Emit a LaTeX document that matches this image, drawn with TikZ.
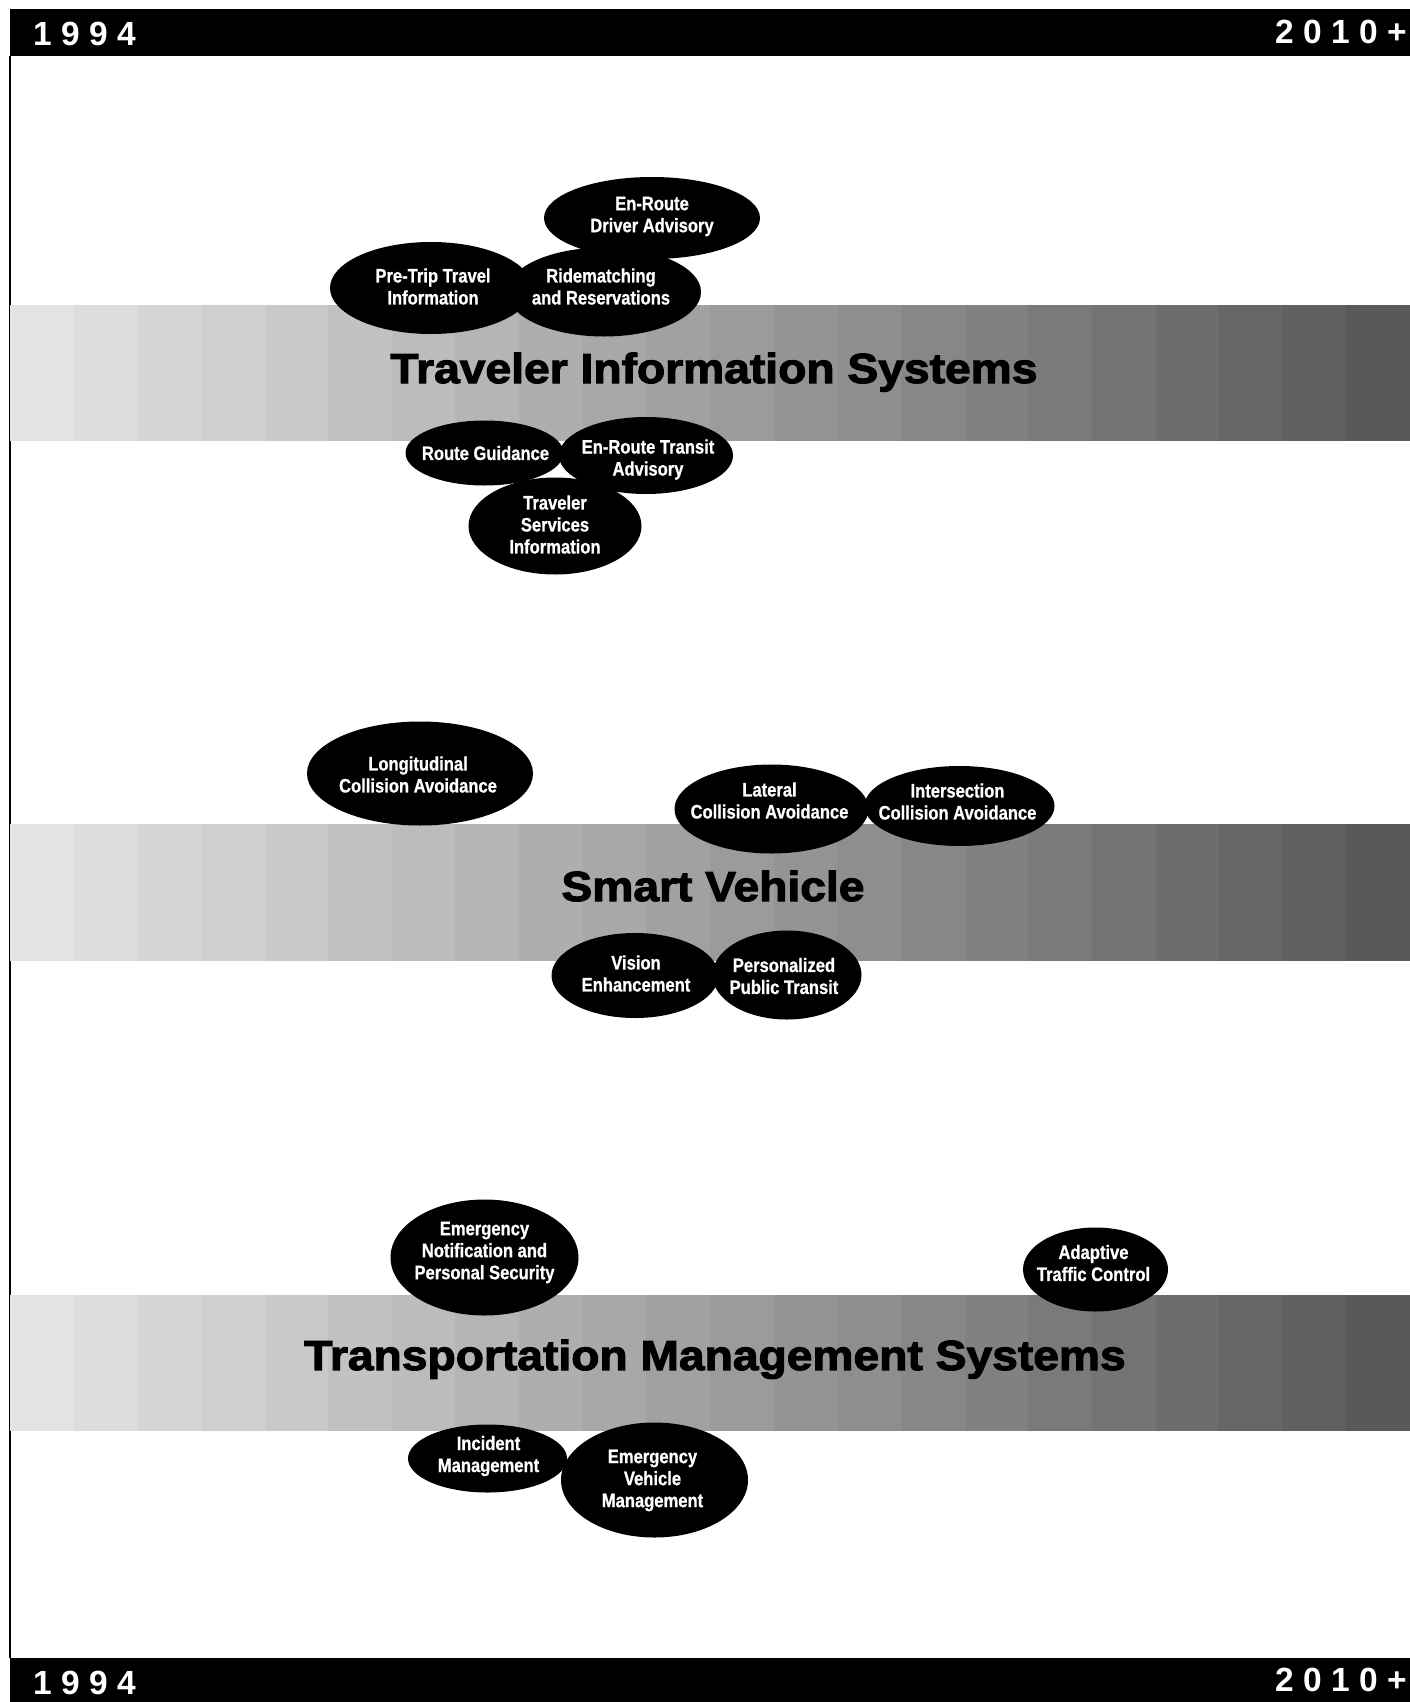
\documentclass[tikz,border=0pt]{standalone}
\usepackage{fontspec}
\setmainfont{Liberation Sans}
\newfontfamily\bubblefont[FakeStretch=0.85,FakeBold=0.8]{Liberation Sans}
\newfontfamily\bandfont[FakeStretch=1.1,FakeBold=2.6]{Liberation Sans}
\newfontfamily\yearfont[LetterSpace=28]{Liberation Sans}

% stepped grey band spanning the page width
\newcommand\greyband[2]{%
  \foreach \i in {0,...,21}{%
    \pgfmathsetmacro\g{89-54*\i/21}%
    \fill[white!\g!black] ({10+\i*63.64},#1) rectangle ({10+(\i+1)*63.64+0.6},#2);
  }%
}
% black elliptical bubble: name, centre x, centre y, radii, label offset, label
\newcommand\bubble[8]{%
  \fill[black] (#2,#3) ellipse [x radius=#4pt, y radius=#5pt];
  \node[bubbletext] (#1) at ({#2+#6},{#3+#7}) {#8};
}

\begin{document}
\begin{tikzpicture}[x=1pt,y=-1pt,
  bubbletext/.style={text=white, inner sep=0pt, align=center,
    font=\bubblefont\bfseries\fontsize{19.5}{22}\selectfont},
  bandtitle/.style={text=black, inner sep=0pt, anchor=base,
    font=\bandfont\bfseries\fontsize{42}{48}\selectfont},
  yearlabel/.style={text=white, inner sep=0pt,
    font=\yearfont\bfseries\fontsize{33.5}{38}\selectfont}]

\useasboundingbox (0,0) rectangle (1410,1702);
\fill[white] (0,0) rectangle (1410,1702);

% time axis bars and left rule
\fill[black] (10,8.7) rectangle (1410,56.4);
\fill[black] (10,1657.5) rectangle (1410,1702);
\draw[line width=2pt] (10,56) -- (10,1658);
\node[yearlabel, anchor=base west] (startTop) at (33,45.6) {1994};
\node[yearlabel, anchor=base east] (endTop) at (1407,43.5) {2010+};
\node[yearlabel, anchor=base west] (startBot) at (33,1694) {1994};
\node[yearlabel, anchor=base east] (endBot) at (1407,1691) {2010+};

% bands
\greyband{305}{440.7}
\greyband{824}{960.7}
\greyband{1295}{1430.6}
\node[bandtitle] (tis) at (714,383) {Traveler Information Systems};
\node[bandtitle] (sv) at (713,901) {Smart Vehicle};
\node[bandtitle] (tms) at (715,1370) {Transportation Management Systems};

% Traveler Information Systems
\bubble{driverAdv}{652}{218}{108}{41}{0}{-1.5}{En-Route\\Driver Advisory}
\bubble{preTrip}{431}{288}{101}{46}{2}{-1.5}{Pre-Trip Travel\\Information}
\bubble{rideMatch}{604}{292}{97}{44.5}{-3}{-5.5}{Ridematching\\and Reservations}
\bubble{routeGuid}{484.5}{453}{79}{32.5}{1}{0}{Route Guidance}
\bubble{transitAdv}{646}{455.5}{87}{38.5}{2}{4}{En-Route Transit\\Advisory}
\bubble{travServ}{555}{526}{86.5}{48.5}{0}{-1.5}{Traveler\\Services\\Information}

% Smart Vehicle
\bubble{longCA}{420}{773.5}{113}{52}{-2}{1}{Longitudinal\\Collision Avoidance}
\bubble{latCA}{771.5}{809}{97}{44.5}{-2}{-8.5}{Lateral\\Collision Avoidance}
\bubble{intCA}{959.5}{806}{95}{40}{-2}{-4.5}{Intersection\\Collision Avoidance}
\bubble{vision}{635}{975.5}{83.5}{42.5}{1}{-2}{Vision\\Enhancement}
\bubble{ppTransit}{787}{975}{74.5}{44.5}{-3}{1}{Personalized\\Public Transit}

% Transportation Management Systems
\bubble{emNotif}{484.5}{1257.5}{94}{58}{0}{-5}{Emergency\\Notification and\\Personal Security}
\bubble{adaptive}{1095.5}{1269.5}{72.5}{42}{-2}{-6.5}{Adaptive\\Traffic Control}
\bubble{incident}{487.5}{1458.5}{79.5}{34}{1}{-2.5}{Incident\\Management}
\bubble{emVehicle}{654.5}{1480}{93.5}{57.5}{-2}{0.5}{Emergency\\Vehicle\\Management}
\end{tikzpicture}
\end{document}
